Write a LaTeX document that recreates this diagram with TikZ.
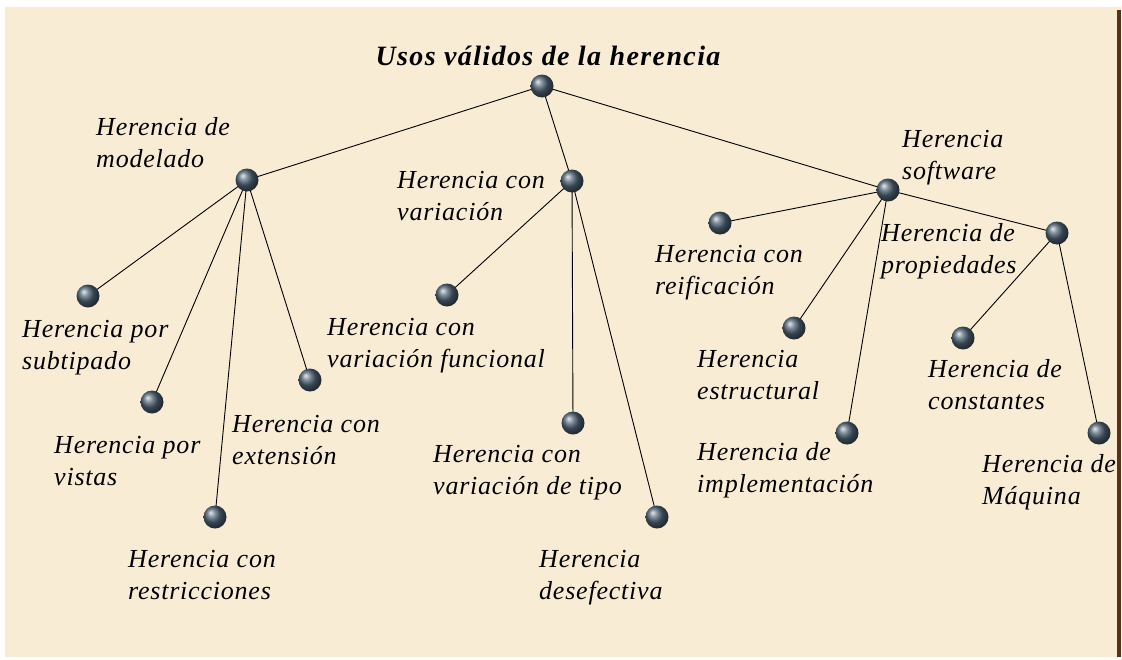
\documentclass[tikz,border=0pt]{standalone}
\usepackage{fontspec}
\setmainfont{Liberation Serif}
\definecolor{parch}{RGB}{248,236,213}
\definecolor{edge}{RGB}{92,48,18}
\definecolor{steel}{RGB}{78,98,116}
\newcommand\lbl[2]{\begin{tabular}[t]{@{}l@{}}#1\\#2\end{tabular}}
\tikzset{
  ballnode/.style={circle,minimum size=23pt,inner sep=0pt,ball color=steel,shading=ball},
  lab/.style={anchor=base west,inner sep=0pt,font=\fontsize{26}{32}\selectfont\itshape\addfontfeature{LetterSpace=3}},
  ttl/.style={anchor=base,inner sep=0pt,font=\fontsize{28}{34}\selectfont\bfseries\itshape\addfontfeature{LetterSpace=5}},
  link/.style={draw=black,line width=0.9pt}
}
\begin{document}
\begin{tikzpicture}[x=1pt,y=-1pt]
\useasboundingbox (0,0) rectangle (1122,659);
\fill[white] (0,0) rectangle (1122,659);
\fill[parch] (5,7) rectangle (1121,657);
\fill[edge] (1117,10) rectangle (1121,657);

\node[ttl] (title) at (548,65) {Usos válidos de la herencia};

% ball positions
\coordinate (pRoot) at (542,86);
\coordinate (pMod) at (247,180);
\coordinate (pVar) at (572,181);
\coordinate (pSoft) at (888,190);
\coordinate (pProp) at (1057,233);
\coordinate (pReif) at (720,223);
\coordinate (pSub) at (88,296);
\coordinate (pVis) at (152,402);
\coordinate (pRes) at (215,517);
\coordinate (pExt) at (310,380);
\coordinate (pFun) at (447,295);
\coordinate (pTip) at (573,423);
\coordinate (pDes) at (657,517);
\coordinate (pEst) at (794,328);
\coordinate (pImp) at (847,433);
\coordinate (pCon) at (963,338);
\coordinate (pMaq) at (1099,433);

% connectors (under the balls)
\foreach \a/\b in {pRoot/pMod,pRoot/pVar,pRoot/pSoft,
  pMod/pSub,pMod/pVis,pMod/pRes,pMod/pExt,
  pVar/pFun,pVar/pTip,pVar/pDes,
  pSoft/pReif,pSoft/pEst,pSoft/pImp,pSoft/pProp,
  pProp/pCon,pProp/pMaq}
  \draw[link] (\a) -- (\b);

% balls
\foreach \p/\n in {pRoot/root,pMod/mod,pVar/var,pSoft/soft,pProp/prop,pReif/reif,
  pSub/sub,pVis/vis,pRes/res,pExt/ext,pFun/fun,pTip/tip,pDes/des,pEst/est,
  pImp/imp,pCon/con,pMaq/maq}
  \node[ballnode] (\n) at (\p) {};

% labels
\node[lab] (lMod) at (96,135) {\lbl{Herencia de}{modelado}};
\node[lab] (lVar) at (397,188) {\lbl{Herencia con}{variación}};
\node[lab] (lSoft) at (902,147) {\lbl{Herencia}{software}};
\node[lab] (lReif) at (655,262) {\lbl{Herencia con}{reificación}};
\node[lab] (lProp) at (881,241) {\lbl{Herencia de}{propiedades}};
\node[lab] (lSub) at (22,337) {\lbl{Herencia por}{subtipado}};
\node[lab] (lFun) at (327,335) {\lbl{Herencia con}{variación funcional}};
\node[lab] (lEst) at (697,367) {\lbl{Herencia}{estructural}};
\node[lab] (lCon) at (928,377) {\lbl{Herencia de}{constantes}};
\node[lab] (lVis) at (54,453) {\lbl{Herencia por}{vistas}};
\node[lab] (lExt) at (232,432) {\lbl{Herencia con}{extensión}};
\node[lab] (lTip) at (433,462) {\lbl{Herencia con}{variación de tipo}};
\node[lab] (lImp) at (697,460) {\lbl{Herencia de}{implementación}};
\node[lab] (lMaq) at (982,472) {\lbl{Herencia de}{Máquina}};
\node[lab] (lRes) at (128,567) {\lbl{Herencia con}{restricciones}};
\node[lab] (lDes) at (539,567) {\lbl{Herencia}{desefectiva}};
\end{tikzpicture}
\end{document}
